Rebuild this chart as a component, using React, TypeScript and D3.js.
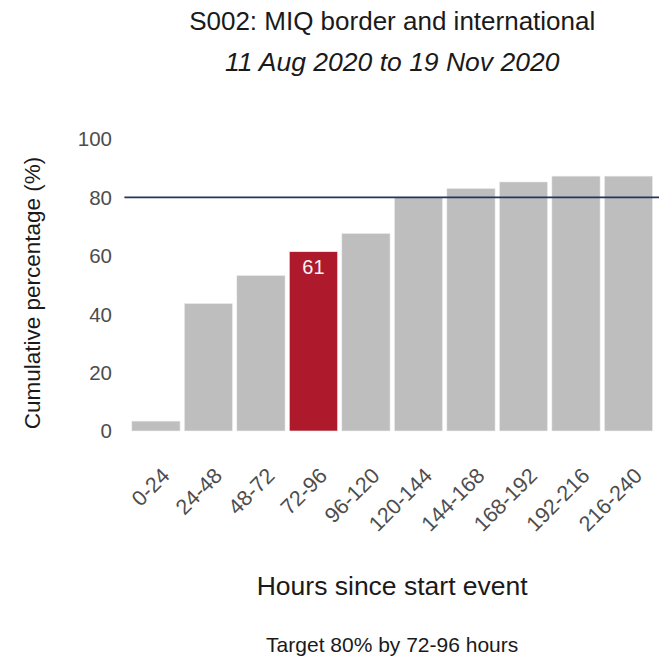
import { scaleBand, scaleLinear } from 'd3';

const categories = ['0-24', '24-48', '48-72', '72-96', '96-120', '120-144', '144-168', '168-192', '192-216', '216-240'];
const cumulative = [3.4, 43.7, 53.3, 61.4, 67.7, 80.1, 83.1, 85.3, 87.3, 87.3];
const yTicks = [0, 20, 40, 60, 80, 100];
const targetValue = 80;
const targetCategory = '72-96';

const title = 'S002: MIQ border and international';
const subtitle = '11 Aug 2020 to 19 Nov 2020';
const xTitle = 'Hours since start event';
const yTitle = 'Cumulative percentage (%)';
const caption = 'Target 80% by 72-96 hours';

const W = 659;
const H = 659;
const panel = { left: 124.4, right: 660, top: 124, bottom: 446 };
const font = '"Liberation Sans", Arial, sans-serif';

export default function App() {
  const x = scaleBand<string>()
    .domain(categories)
    .range([panel.left, panel.right])
    .paddingInner(0.08)
    .paddingOuter(0.14);

  const y = scaleLinear().domain([0, 100]).range([431, 139]);
  const midX = (panel.left + panel.right) / 2;

  return (
    <svg width={W} height={H} style={{ position: 'absolute', left: 0, top: 0 }} fontFamily={font}>
      <rect width={W} height={H} fill="#fff" />

      <text x={midX} y={30} textAnchor="middle" fontSize={26} fill="#1a1a1a">
        {title}
      </text>
      <text x={midX} y={71} textAnchor="middle" fontSize={26.5} fontStyle="italic" fill="#1a1a1a">
        {subtitle}
      </text>

      {/* y axis labels */}
      {yTicks.map((t) => (
        <text key={t} x={112} y={y(t)} dy="0.36em" textAnchor="end" fontSize={20.5} fill="#4d4d4d">
          {t}
        </text>
      ))}

      {/* bars */}
      {categories.map((c, i) => (
        <rect
          key={c}
          x={x(c)}
          y={y(cumulative[i])}
          width={x.bandwidth()}
          height={y(0) - y(cumulative[i])}
          fill={c === targetCategory ? '#ae1a2c' : '#bebebe'}
          stroke="#f2f2f2"
          strokeWidth={0.6}
        />
      ))}

      {categories.map((c, i) =>
        c === targetCategory ? (
          <text
            key={c}
            x={(x(c) ?? 0) + x.bandwidth() / 2}
            y={y(cumulative[i]) + 22}
            textAnchor="middle"
            fontSize={20}
            fill="#f5f5f5"
          >
            {Math.round(cumulative[i])}
          </text>
        ) : null
      )}

      <line x1={panel.left} x2={panel.right} y1={y(targetValue)} y2={y(targetValue)} stroke="#26355e" strokeWidth={1.6} />

      {/* x axis labels */}
      {categories.map((c) => {
        const cx = (x(c) ?? 0) + x.bandwidth() / 2 + 15;
        return (
          <text
            key={c}
            transform={`translate(${cx},477) rotate(-45)`}
            textAnchor="end"
            fontSize={21.5}
            fill="#4d4d4d"
          >
            {c}
          </text>
        );
      })}

      <text x={midX} y={595} textAnchor="middle" fontSize={26.5} fill="#1a1a1a">
        {xTitle}
      </text>
      <text transform={`translate(40,293) rotate(-90)`} textAnchor="middle" fontSize={22.5} fill="#1a1a1a">
        {yTitle}
      </text>
      <text x={midX} y={652} textAnchor="middle" fontSize={21} fill="#1a1a1a">
        {caption}
      </text>
    </svg>
  );
}
